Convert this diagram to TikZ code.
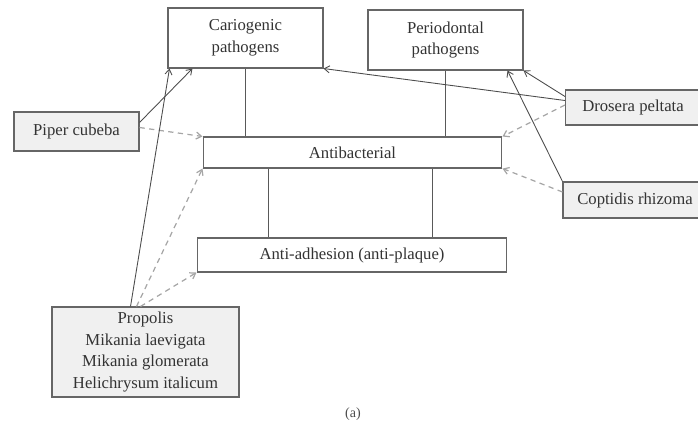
\documentclass[tikz,border=0pt]{standalone}
\usepackage{fontspec}
\setmainfont{Liberation Serif}
\usetikzlibrary{arrows.meta,calc}

\tikzset{
	effect/.style={draw=black!60, line width=0.6pt, fill=white, inner sep=0pt, align=center, text=black!80, font=\fontsize{9.5}{12.5}\selectfont},
	plant/.style={effect, fill=black!6},
	link/.style={draw=black!65, line width=0.5pt},
	hit/.style={draw=black!70, line width=0.5pt, -{Straight Barb[length=3pt,width=4pt]}},
	weak/.style={draw=black!35, line width=0.7pt, dash pattern=on 3pt off 2.5pt, -{Straight Barb[length=3pt,width=4pt]}}
}

\begin{document}
\begin{tikzpicture}[x=0.02cm, y=-0.02cm]
	\useasboundingbox (0,0) rectangle (698,423); % Rahmen wie Vorlage
	
	% Wirkungen
	\node[effect, minimum width=3.1cm, minimum height=1.2cm] (cario) at (245.5,38) {Cariogenic\\pathogens};
	\node[effect, minimum width=3.1cm, minimum height=1.2cm] (perio) at (445.5,40) {Periodontal\\pathogens};
	\node[effect, minimum width=5.98cm, minimum height=0.62cm] (anti) at (352.5,152.5) {Antibacterial};
	\node[effect, minimum width=6.2cm, minimum height=0.68cm] (adh) at (352,255) {Anti-adhesion (anti-plaque)};
	
	% Pflanzen
	\node[plant, minimum width=2.5cm, minimum height=0.78cm] (piper) at (76.5,131.5) {Piper cubeba};
	\node[plant, minimum width=2.7cm, minimum height=0.7cm] (drosera) at (633,107.5) {Drosera peltata};
	\node[plant, minimum width=2.88cm, minimum height=0.72cm] (coptis) at (635,200) {Coptidis rhizoma};
	\node[plant, minimum width=3.74cm, minimum height=1.8cm] (propolis) at (145.5,352) {Propolis\\Mikania laevigata\\Mikania glomerata\\Helichrysum italicum};
	
	% Verbindungen
	\draw[link] (cario.south) -- (cario.south |- anti.north);
	\draw[link] (perio.south) -- (perio.south |- anti.north);
	\coordinate (adhl) at ($(adh.north west)!0.23!(adh.north east)$);
	\coordinate (adhr) at ($(adh.north west)!0.76!(adh.north east)$);
	\draw[link] (adhl |- anti.south) -- (adhl);
	\draw[link] (adhr |- anti.south) -- (adhr);
	
	% Pfeile
	\draw[hit] ([yshift=0.18cm]piper.east) -- ([xshift=0.5cm]cario.south west);
	\draw[weak] ([yshift=0.08cm]piper.east) -- (anti.north west);
	
	\draw[hit] ([xshift=-0.3cm]propolis.north) -- ([xshift=0.04cm]cario.south west);
	\draw[weak] ([xshift=-0.18cm]propolis.north) -- (anti.south west);
	\draw[weak] ([xshift=-0.1cm]propolis.north) -- (adh.south west);
	
	\draw[hit] ([yshift=0.14cm]drosera.west) -- (cario.south east);
	\draw[hit] ([yshift=0.22cm]drosera.west) -- (perio.south east);
	\draw[weak] ([yshift=0.05cm]drosera.west) -- (anti.north east);
	
	\draw[hit] (coptis.north west) -- ([xshift=-0.32cm]perio.south east);
	\draw[weak] ([yshift=0.16cm]coptis.west) -- (anti.south east);
	
	\node[font=\fontsize{8}{9}\selectfont, text=black!70] (cap) at (353,414) {(a)};
\end{tikzpicture}
\end{document}
